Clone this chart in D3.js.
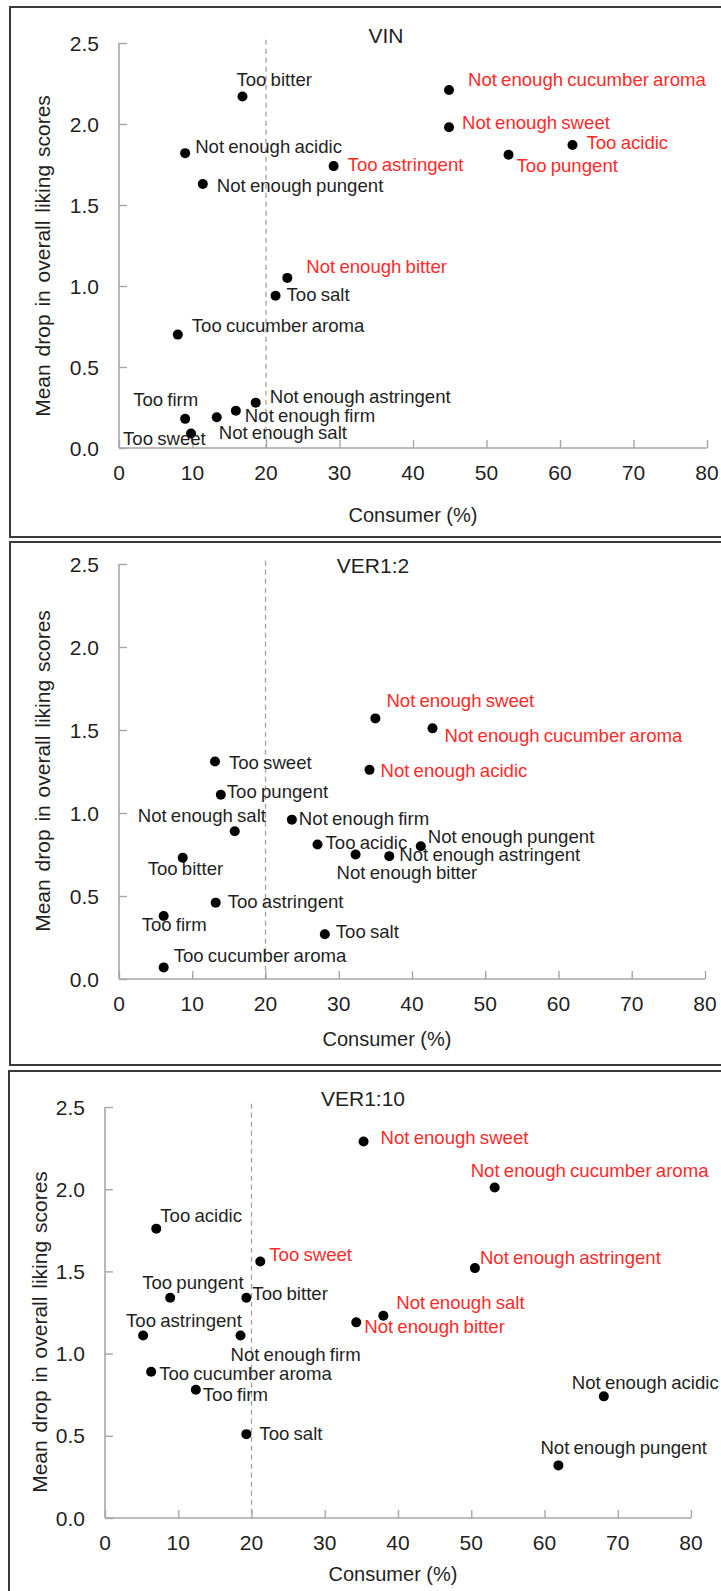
<!DOCTYPE html>
<html>
<head>
<meta charset="utf-8">
<script src="https://cdn.jsdelivr.net/npm/d3@7"></script>
<style>
  html, body { margin: 0; padding: 0; background: #fff; }
  svg { display: block; }
  text { font-family: "Liberation Sans", Arial, sans-serif; }
</style>
</head>
<body>
<svg id="chart" width="721" height="1591"></svg>
<script>
// ---------------- DATA ----------------
const xTickValues = [0, 10, 20, 30, 40, 50, 60, 70, 80];
const yTickValues = [0, 0.5, 1.0, 1.5, 2.0, 2.5];
const panelTitles = ["VIN", "VER1:2", "VER1:10"];
const xAxisTitle = "Consumer (%)";
const yAxisTitle = "Mean drop in overall liking scores";
const thresholdPercent = 20;

// VIN
const vinAttributes = ["Too bitter", "Not enough acidic", "Not enough pungent", "Too astringent",
  "Not enough cucumber aroma", "Not enough sweet", "Too acidic", "Too pungent",
  "Not enough bitter", "Too salt", "Too cucumber aroma", "Too firm", "Too sweet",
  "Not enough salt", "Not enough firm", "Not enough astringent"];
const vinConsumer = [16.8, 9.0, 11.4, 29.2, 44.9, 44.9, 61.7, 53.0, 22.9, 21.3, 8.0, 9.0, 9.8, 13.3, 15.9, 18.6];
const vinMeanDrop = [2.17, 1.82, 1.63, 1.74, 2.21, 1.98, 1.87, 1.81, 1.05, 0.94, 0.70, 0.18, 0.09, 0.19, 0.23, 0.28];
const vinHighlighted = [false, false, false, true, true, true, true, true, true, false, false, false, false, false, false, false];

// VER1:2
const ver12Attributes = ["Too sweet", "Too pungent", "Not enough salt", "Not enough firm", "Too acidic",
  "Not enough bitter", "Too bitter", "Too astringent", "Too firm", "Too salt", "Too cucumber aroma",
  "Not enough sweet", "Not enough cucumber aroma", "Not enough acidic", "Not enough pungent",
  "Not enough astringent"];
const ver12Consumer = [13.1, 13.9, 15.8, 23.6, 27.1, 32.3, 8.7, 13.2, 6.1, 28.1, 6.1, 35.0, 42.8, 34.2, 41.2, 36.9];
const ver12MeanDrop = [1.31, 1.11, 0.89, 0.96, 0.81, 0.75, 0.73, 0.46, 0.38, 0.27, 0.07, 1.57, 1.51, 1.26, 0.80, 0.74];
const ver12Highlighted = [false, false, false, false, false, false, false, false, false, false, false, true, true, true, false, false];

// VER1:10
const ver110Attributes = ["Too acidic", "Too sweet", "Too pungent", "Too bitter", "Too astringent",
  "Not enough firm", "Too cucumber aroma", "Too firm", "Too salt", "Not enough sweet",
  "Not enough cucumber aroma", "Not enough astringent", "Not enough salt", "Not enough bitter",
  "Not enough acidic", "Not enough pungent"];
const ver110Consumer = [7.0, 21.2, 8.9, 19.3, 5.2, 18.5, 6.3, 12.4, 19.3, 35.3, 53.2, 50.5, 38.0, 34.3, 68.1, 61.9];
const ver110MeanDrop = [1.76, 1.56, 1.34, 1.34, 1.11, 1.11, 0.89, 0.78, 0.51, 2.29, 2.01, 1.52, 1.23, 1.19, 0.74, 0.32];
const ver110Highlighted = [false, true, false, false, false, false, false, false, false, true, true, true, true, true, false, false];

// ---------------- LAYOUT (label offsets from the dot, in px) ----------------
const vinLabelOffsets = [[-6,-10],[10,0],[14,8],[14,5],[19,-4],[13,2],[14,4],[8,17],[19,-5],[11,5],[14,-3],[-52,-13],[-68,12],[2,22],[9,11],[14,0]];
const ver12LabelOffsets = [[14,7],[6,3],[-97,-9],[7,5],[8,4],[-19,24],[-35,17],[12,5],[-22,15],[11,4],[10,-5],[11,-11],[12,14],[11,7],[7,-3],[10,5]];
const ver110LabelOffsets = [[4,-7],[9,-1],[-28,-9],[6,2],[-17,-9],[-10,25],[8,8],[7,11],[13,6],[17,2],[-24,-11],[5,-4],[13,-7],[8,11],[-32,-7],[-18,-11]];

const panels = [
  { title: panelTitles[0], names: vinAttributes, xs: vinConsumer, ys: vinMeanDrop, hl: vinHighlighted, off: vinLabelOffsets,
    box: [10, 7, 537], xr: [119, 707], yr: [448, 43], titleX: 386, titleY: 43, xtX: 413, xtY: 522, ytY: 256, ytX: 50 },
  { title: panelTitles[1], names: ver12Attributes, xs: ver12Consumer, ys: ver12MeanDrop, hl: ver12Highlighted, off: ver12LabelOffsets,
    box: [10, 542, 1065], xr: [119, 705], yr: [979, 564], titleX: 373, titleY: 573, xtX: 387, xtY: 1046, ytY: 771, ytX: 50 },
  { title: panelTitles[2], names: ver110Attributes, xs: ver110Consumer, ys: ver110MeanDrop, hl: ver110Highlighted, off: ver110LabelOffsets,
    box: [9, 1071, 1600], xr: [105, 691], yr: [1518, 1107], titleX: 363, titleY: 1106, xtX: 393, xtY: 1581, ytY: 1332, ytX: 47 }
];

const svg = d3.select("#chart");
const AXIS = "#a6a6a6";
const TEXT = "#1f1f1f";
const RED = "#ff2b2b";

panels.forEach(p => {
  const g = svg.append("g");
  // frame
  g.append("rect")
    .attr("x", p.box[0]).attr("y", p.box[1])
    .attr("width", 740 - p.box[0]).attr("height", p.box[2] - p.box[1])
    .attr("fill", "none").attr("stroke", "#3a3a3a").attr("stroke-width", 2);

  const x = d3.scaleLinear().domain([0, 80]).range(p.xr);
  const y = d3.scaleLinear().domain([0, 2.5]).range(p.yr);

  // x axis
  const xAxis = g.append("g").attr("transform", `translate(0,${p.yr[0]})`)
    .call(d3.axisTop(x).tickValues(xTickValues).tickSize(8).tickFormat(""));
  xAxis.select(".domain").attr("stroke", AXIS).attr("stroke-width", 1.6).attr("d", `M${p.xr[0]},0H${p.xr[1]}`);
  xAxis.selectAll(".tick line").attr("stroke", AXIS).attr("stroke-width", 1.4);
  g.selectAll(".xlab").data(xTickValues).enter().append("text")
    .attr("x", d => x(d)).attr("y", p.yr[0] + 32)
    .attr("text-anchor", "middle").attr("font-size", 21).attr("fill", TEXT)
    .text(d => d);

  // y axis
  const yAxis = g.append("g").attr("transform", `translate(${p.xr[0]},0)`)
    .call(d3.axisRight(y).tickValues(yTickValues).tickSize(8).tickFormat(""));
  yAxis.select(".domain").attr("stroke", AXIS).attr("stroke-width", 1.6).attr("d", `M0,${p.yr[0]}V${p.yr[1]}`);
  yAxis.selectAll(".tick line").attr("stroke", AXIS).attr("stroke-width", 1.4);
  g.selectAll(".ylab").data(yTickValues).enter().append("text")
    .attr("x", p.xr[0] - 20).attr("y", d => y(d)).attr("dy", "0.36em")
    .attr("text-anchor", "end").attr("font-size", 21).attr("fill", TEXT)
    .text(d => d3.format(".1f")(d));

  // threshold dashed line
  g.append("line")
    .attr("x1", x(thresholdPercent)).attr("x2", x(thresholdPercent))
    .attr("y1", y(2.52)).attr("y2", y(0))
    .attr("stroke", "#a0a0a0").attr("stroke-width", 1.3).attr("stroke-dasharray", "5,4");

  // titles
  g.append("text").attr("x", p.titleX).attr("y", p.titleY)
    .attr("text-anchor", "middle").attr("font-size", 21).attr("fill", TEXT).text(p.title);
  g.append("text").attr("x", p.xtX).attr("y", p.xtY)
    .attr("text-anchor", "middle").attr("font-size", 20).attr("fill", TEXT).text(xAxisTitle);
  g.append("text").attr("transform", `translate(${p.ytX},${p.ytY}) rotate(-90)`)
    .attr("text-anchor", "middle").attr("font-size", 21).attr("fill", TEXT)
    .attr("word-spacing", 2).text(yAxisTitle);

  const data = p.names.map((n, i) => ({ name: n, cx: p.xs[i], cy: p.ys[i], hl: p.hl[i], off: p.off[i] }));

  // points
  g.selectAll(".pt").data(data).enter().append("circle")
    .attr("cx", d => x(d.cx)).attr("cy", d => y(d.cy)).attr("r", 5).attr("fill", "#000");

  // labels
  g.selectAll(".lbl").data(data).enter().append("text")
    .attr("x", d => x(d.cx) + d.off[0]).attr("y", d => y(d.cy) + d.off[1])
    .attr("font-size", 18.6).attr("word-spacing", -1)
    .attr("fill", d => d.hl ? RED : TEXT)
    .text(d => d.name);
});
</script>
</body>
</html>
